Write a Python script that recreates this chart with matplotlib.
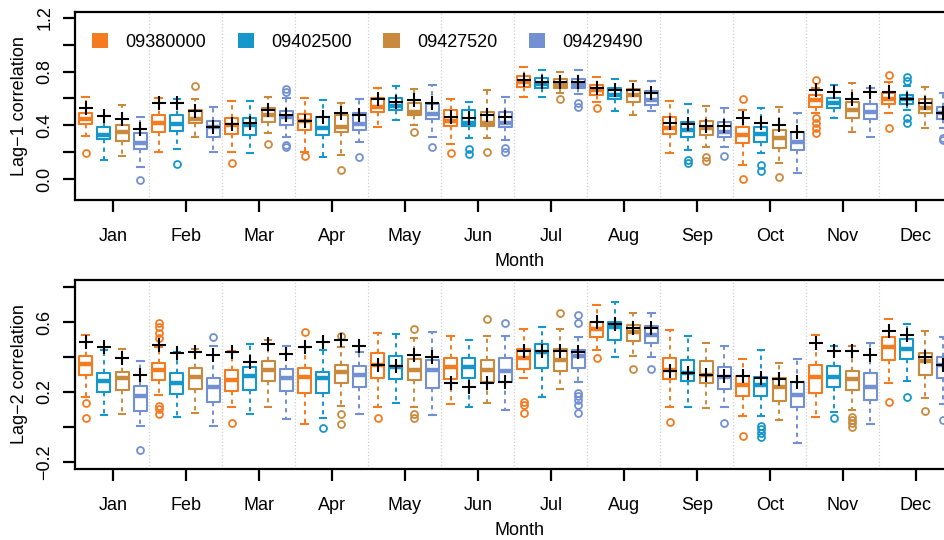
import matplotlib
matplotlib.use("Agg")
import matplotlib.pyplot as plt
from matplotlib.patches import Patch

plt.rcParams["font.family"] = ["Liberation Sans", "DejaVu Sans"]

months = ["Jan", "Feb", "Mar", "Apr", "May", "Jun",
          "Jul", "Aug", "Sep", "Oct", "Nov", "Dec"]
stations = ["09380000", "09402500", "09427520", "09429490"]
colors = ["#f47b20", "#1597cc", "#c98a3e", "#7290d2"]

# lag-1 correlation, one row per month, one column per station
lag1_q1 = [[0.41, 0.30, 0.28, 0.22], [0.35, 0.36, 0.415, 0.31], [0.336, 0.33, 0.423, 0.403],
           [0.366, 0.328, 0.353, 0.366], [0.502, 0.515, 0.478, 0.448], [0.396, 0.396, 0.396, 0.39],
           [0.684, 0.677, 0.677, 0.677], [0.627, 0.595, 0.577, 0.552], [0.336, 0.316, 0.328, 0.31],
           [0.266, 0.279, 0.229, 0.216], [0.54, 0.527, 0.453, 0.448], [0.56, 0.56, 0.49, 0.445]]
lag1_med = [[0.45, 0.33, 0.35, 0.27], [0.42, 0.41, 0.445, 0.385], [0.40, 0.40, 0.478, 0.46],
            [0.43, 0.378, 0.39, 0.41], [0.54, 0.545, 0.502, 0.483], [0.43, 0.42, 0.42, 0.415],
            [0.72, 0.709, 0.70, 0.70], [0.66, 0.627, 0.627, 0.59], [0.378, 0.366, 0.378, 0.353],
            [0.328, 0.333, 0.303, 0.279], [0.59, 0.565, 0.515, 0.502], [0.597, 0.597, 0.527, 0.49]]
lag1_q3 = [[0.49, 0.39, 0.40, 0.34], [0.48, 0.48, 0.515, 0.435], [0.453, 0.453, 0.532, 0.507],
           [0.485, 0.465, 0.478, 0.49], [0.607, 0.60, 0.57, 0.56], [0.515, 0.515, 0.502, 0.497],
           [0.769, 0.756, 0.746, 0.744], [0.70, 0.677, 0.669, 0.659], [0.46, 0.428, 0.435, 0.428],
           [0.39, 0.39, 0.366, 0.353], [0.627, 0.607, 0.577, 0.56], [0.639, 0.627, 0.597, 0.54]]
lag1_wlo = [[0.32, 0.14, 0.17, 0.09], [0.20, 0.22, 0.31, 0.20], [0.20, 0.197, 0.346, 0.316],
            [0.204, 0.167, 0.18, 0.279], [0.39, 0.44, 0.40, 0.316], [0.259, 0.308, 0.308, 0.29],
            [0.614, 0.614, 0.64, 0.634], [0.577, 0.507, 0.478, 0.507], [0.197, 0.216, 0.241, 0.241],
            [0.104, 0.19, 0.117, 0.047], [0.49, 0.453, 0.353, 0.316], [0.49, 0.515, 0.378, 0.38]]
lag1_whi = [[0.61, 0.47, 0.55, 0.46], [0.60, 0.595, 0.595, 0.535], [0.585, 0.585, 0.614, 0.60],
            [0.60, 0.59, 0.565, 0.595], [0.677, 0.694, 0.67, 0.70], [0.597, 0.577, 0.664, 0.614],
            [0.838, 0.813, 0.80, 0.813], [0.759, 0.746, 0.734, 0.734], [0.585, 0.56, 0.545, 0.527],
            [0.515, 0.527, 0.54, 0.49], [0.68, 0.70, 0.714, 0.677], [0.72, 0.69, 0.684, 0.639]]
lag1_obs = [[0.53, 0.47, 0.45, 0.37], [0.565, 0.565, 0.507, 0.385], [0.41, 0.415, 0.515, 0.478],
            [0.435, 0.46, 0.495, 0.478], [0.597, 0.577, 0.59, 0.57], [0.465, 0.458, 0.478, 0.465],
            [0.739, 0.726, 0.726, 0.72], [0.677, 0.664, 0.664, 0.639], [0.415, 0.408, 0.396, 0.396],
            [0.453, 0.42, 0.403, 0.353], [0.664, 0.647, 0.597, 0.652], [0.652, 0.597, 0.57, 0.495]]
lag1_fliers = [[[0.19], [], [], [-0.01]],
               [[], [0.11], [0.69], []],
               [[0.12], [], [0.26], [0.672, 0.65, 0.25, 0.236]],
               [[0.174], [], [0.067], [0.16]],
               [[], [], [0.353], [0.24]],
               [[0.19], [0.224, 0.187], [0.204], [0.229, 0.204]],
               [[], [], [0.595], [0.565, 0.535]],
               [[0.527], [], [], []],
               [[], [0.142, 0.117], [0.167, 0.137], [0.174]],
               [[0.597, -0.002], [0.104, 0.062], [0.017], []],
               [[0.739, 0.453, 0.415, 0.378, 0.34], [], [], []],
               [[0.776, 0.383], [0.759, 0.734, 0.453, 0.42], [], [0.303, 0.29]]]

# lag-2 correlation
lag2_q1 = [[0.297, 0.202, 0.211, 0.091], [0.269, 0.189, 0.215, 0.145], [0.208, 0.211, 0.263, 0.208],
           [0.196, 0.196, 0.253, 0.23], [0.282, 0.272, 0.269, 0.221], [0.272, 0.278, 0.259, 0.255],
           [0.331, 0.339, 0.322, 0.339], [0.516, 0.497, 0.493, 0.482], [0.272, 0.265, 0.25, 0.215],
           [0.177, 0.177, 0.149, 0.116], [0.196, 0.227, 0.211, 0.154], [0.383, 0.387, 0.297, 0.278]]
lag2_med = [[0.358, 0.265, 0.278, 0.177], [0.326, 0.253, 0.284, 0.23], [0.269, 0.291, 0.326, 0.278],
            [0.288, 0.278, 0.316, 0.297], [0.354, 0.345, 0.326, 0.326], [0.345, 0.341, 0.326, 0.322],
            [0.392, 0.43, 0.383, 0.406], [0.558, 0.573, 0.545, 0.526], [0.326, 0.307, 0.297, 0.288],
            [0.24, 0.24, 0.227, 0.183], [0.288, 0.288, 0.272, 0.23], [0.455, 0.444, 0.379, 0.354]]
lag2_q3 = [[0.406, 0.307, 0.316, 0.234], [0.368, 0.31, 0.335, 0.278], [0.326, 0.345, 0.379, 0.33],
           [0.335, 0.316, 0.354, 0.349], [0.421, 0.406, 0.387, 0.383], [0.392, 0.392, 0.383, 0.392],
           [0.446, 0.474, 0.446, 0.44], [0.602, 0.602, 0.583, 0.577], [0.392, 0.383, 0.379, 0.345],
           [0.291, 0.288, 0.278, 0.259], [0.354, 0.349, 0.322, 0.307], [0.516, 0.501, 0.425, 0.398]]
lag2_wlo = [[0.17, 0.069, 0.072, 0.008], [0.183, 0.059, 0.078, 0.006], [0.112, 0.074, 0.112, 0.044],
            [0.017, 0.05, 0.12, 0.072], [0.116, 0.135, 0.116, 0.069], [0.131, 0.116, 0.135, 0.097],
            [0.278, 0.17, 0.215, 0.259], [0.44, 0.398, 0.406, 0.398], [0.116, 0.116, 0.11, 0.116],
            [0.063, 0.063, 0.04, -0.09], [0.059, 0.088, 0.097, 0.015], [0.25, 0.263, 0.164, 0.13]]
lag2_whi = [[0.526, 0.44, 0.446, 0.379], [0.46, 0.43, 0.444, 0.463], [0.434, 0.474, 0.50, 0.463],
            [0.46, 0.44, 0.46, 0.43], [0.535, 0.53, 0.507, 0.545], [0.52, 0.50, 0.52, 0.52],
            [0.558, 0.573, 0.558, 0.516], [0.70, 0.712, 0.653, 0.653], [0.554, 0.52, 0.482, 0.463],
            [0.387, 0.44, 0.364, 0.389], [0.526, 0.463, 0.463, 0.478], [0.615, 0.587, 0.549, 0.516]]
lag2_obs = [[0.488, 0.455, 0.392, 0.297], [0.469, 0.425, 0.43, 0.411], [0.43, 0.373, 0.474, 0.417],
            [0.455, 0.488, 0.497, 0.463], [0.354, 0.35, 0.411, 0.398], [0.25, 0.227, 0.253, 0.259],
            [0.434, 0.436, 0.436, 0.43], [0.598, 0.589, 0.568, 0.568], [0.322, 0.31, 0.297, 0.291],
            [0.291, 0.278, 0.272, 0.259], [0.478, 0.434, 0.434, 0.411], [0.549, 0.526, 0.402, 0.354]]
lag2_fliers = [[[0.135, 0.05], [], [], [-0.131]],
               [[0.592, 0.57, 0.535, 0.507, 0.12, 0.101, 0.074], [], [], [0.516]],
               [[0.025], [], [], []],
               [[0.545], [-0.008], [0.52, 0.074, 0.017], []],
               [[0.053], [], [0.558, 0.074, 0.05], []],
               [[], [], [0.615], [0.596]],
               [[0.145, 0.126, 0.082], [], [0.653], [0.64, 0.596, 0.196, 0.177, 0.154, 0.126, 0.078]],
               [[0.392], [], [0.33], [0.33]],
               [[0.027], [], [], [0.025]],
               [[-0.05], [0.006, -0.013, -0.032, -0.055], [], []],
               [[], [0.05], [0.059, 0.04, 0.021, 0.002], []],
               [[0.141], [0.173], [0.091], [0.04]]]

lag1_ticks = [0.0, 0.2, 0.4, 0.6, 0.8, 1.0, 1.2]
lag1_ticklabels = ["0.0", "", "0.4", "", "0.8", "", "1.2"]
lag2_ticks = [-0.2, 0.0, 0.2, 0.4, 0.6, 0.8]
lag2_ticklabels = ["\u22120.2", "", "0.2", "", "0.6", ""]

offsets = [-0.375, -0.125, 0.125, 0.375]
month_pos = list(range(1, 13))


def draw_panel(ax, q1, med, q3, wlo, whi, obs, fliers):
    for s, color in enumerate(colors):
        stats = []
        for m in range(12):
            stats.append(dict(q1=q1[m][s], med=med[m][s], q3=q3[m][s],
                              whislo=wlo[m][s], whishi=whi[m][s],
                              fliers=fliers[m][s]))
        pos = [p + offsets[s] for p in month_pos]
        ax.bxp(stats, positions=pos, widths=0.18, capwidths=0.09,
               manage_ticks=False, showfliers=True,
               boxprops=dict(color=color, linewidth=1.5),
               medianprops=dict(color=color, linewidth=3.2, solid_capstyle="butt"),
               whiskerprops=dict(color=color, linewidth=1.4, linestyle=(0, (2.2, 2.2))),
               capprops=dict(color=color, linewidth=1.5),
               flierprops=dict(marker="o", markerfacecolor="none",
                               markeredgecolor=color, markersize=5,
                               markeredgewidth=1.3))
        ax.plot(pos, [obs[m][s] for m in range(12)], "+", color="black",
                markersize=10, markeredgewidth=1.5, zorder=6)

    for b in range(1, 13):
        ax.axvline(b + 0.5, color="#cfcfcf", linestyle=":", linewidth=0.9, zorder=0)

    ax.set_xlim(0.48, 0.48 + 890 / 73)
    ax.set_xticks(month_pos)
    ax.set_xticklabels(months)
    ax.set_xlabel("Month", fontsize=13, labelpad=6)
    for sp in ax.spines.values():
        sp.set_linewidth(1.6)
    ax.tick_params(axis="both", length=8.5, width=1.6, labelsize=13)
    ax.tick_params(axis="x", pad=11.5)
    ax.tick_params(axis="y", pad=7)


fig = plt.figure(figsize=(9.45, 5.4), dpi=100)
ax1 = fig.add_axes([75 / 945, 1 - 200 / 540, 890 / 945, 188 / 540])
ax2 = fig.add_axes([75 / 945, 1 - 469 / 540, 890 / 945, 189 / 540])

draw_panel(ax1, lag1_q1, lag1_med, lag1_q3, lag1_wlo, lag1_whi, lag1_obs, lag1_fliers)
ax1.set_ylim(-0.157, 1.245)
ax1.set_yticks(lag1_ticks)
ax1.set_yticklabels(lag1_ticklabels, rotation=90, va="center")
ax1.set_ylabel("Lag\u22121 correlation", fontsize=13, labelpad=6)

draw_panel(ax2, lag2_q1, lag2_med, lag2_q3, lag2_wlo, lag2_whi, lag2_obs, lag2_fliers)
ax2.set_ylim(-0.24, 0.84)
ax2.set_yticks(lag2_ticks)
ax2.set_yticklabels(lag2_ticklabels, rotation=90, va="center")
ax2.set_ylabel("Lag\u22122 correlation", fontsize=13, labelpad=6)

handles = [Patch(facecolor=c, edgecolor="none") for c in colors]
ax1.legend(handles, stations, ncol=4, frameon=False, fontsize=13,
           loc="center left", bbox_to_anchor=(92 / 945, 1 - 42 / 540),
           bbox_transform=fig.transFigure, borderpad=0, borderaxespad=0,
           handlelength=0.9, handleheight=0.9, handletextpad=0.95,
           columnspacing=1.75)

fig.savefig("out.png", dpi=100)
